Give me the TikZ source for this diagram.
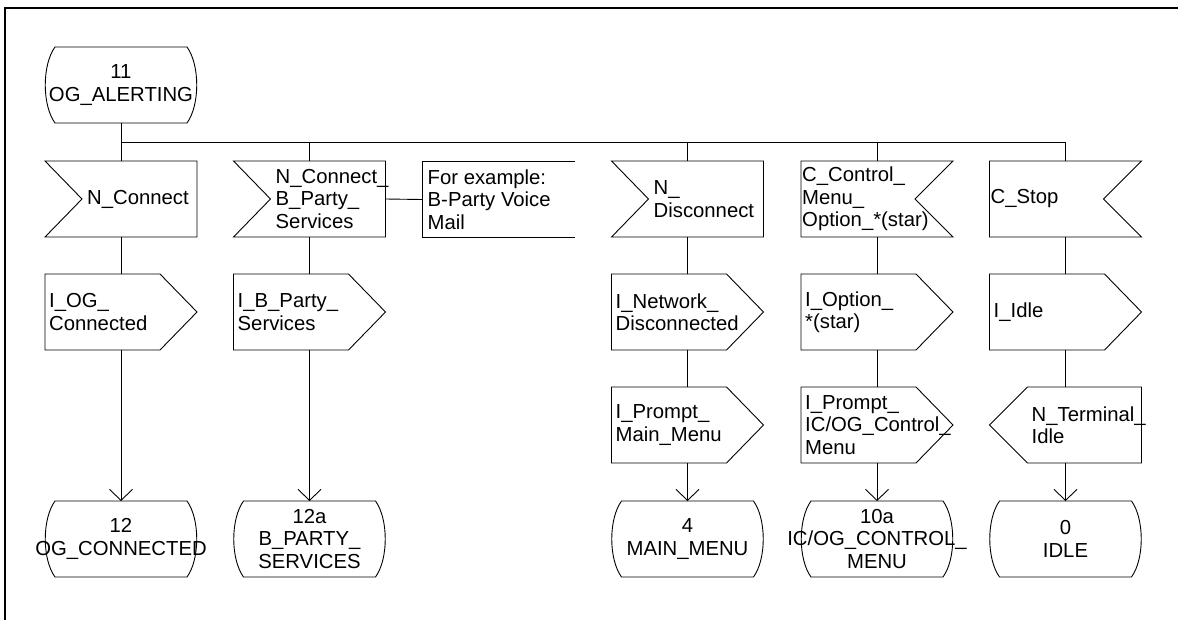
\documentclass[tikz,border=0pt]{standalone}
\usepackage{fontspec}
\setmainfont{Liberation Sans}
\usetikzlibrary{arrows.meta,calc}
\begin{document}
\begin{tikzpicture}[x=1pt,y=-1pt,
  every node/.style={font=\fontsize{20.3}{22.5}\selectfont},
  box/.style={draw=none, minimum width=152pt, minimum height=76pt, inner sep=0pt, outer sep=0pt},
  statebox/.style={box, align=center},
  lbl/.style={anchor=west, align=left, inner sep=0pt},
  line/.style={line width=0.9pt},
  flow/.style={line, -{Straight Barb[length=11pt,width=23pt]}},
  frame/.style={line width=2.6pt},
]
\useasboundingbox (0,0) rectangle (1178,619);

% page frame (top and left edges)
\draw[frame] (5,625) -- (5,8) -- (1185,8);

% states
\node[statebox] (s11)   at (121,85)    {11\\OG\_ALERTING};
\node[statebox] (st12)  at (121,539)   {12\\OG\_CONNECTED};
\node[statebox] (st12a) at (309.5,539) {12a\\B\_PARTY\_\\SERVICES};
\node[statebox] (st4)   at (687.5,539) {4\\MAIN\_MENU};
\node[statebox] (st10a) at (877,539)   {10a\\IC/OG\_CONTROL\_\\MENU};
\node[statebox] (st0)   at (1065.5,539){0\\IDLE};

% inputs and comment
\node[box] (in1) at (121,199)    {};
\node[box] (in2) at (309.5,199)  {};
\node[box] (cm)  at (498.5,199.5){};
\node[box] (in4) at (687.5,199)  {};
\node[box] (in5) at (877,199)    {};
\node[box] (in6) at (1065.5,199) {};

% outputs
\node[box] (o1)  at (121,312)    {};
\node[box] (o2)  at (309.5,312)  {};
\node[box] (o4a) at (687.5,312)  {};
\node[box] (o5a) at (877,312)    {};
\node[box] (o6a) at (1065.5,312) {};
\node[box] (o4b) at (687.5,425)  {};
\node[box] (o5b) at (877,425)    {};
\node[box] (o6b) at (1065.5,425) {};

% state outlines
\foreach \n in {s11,st12,st12a,st4,st10a,st0}
  \draw[line] ($(\n.north)+(-66,0)$) -- ($(\n.north)+(66,0)$)
     .. controls ($(\n.north)+(79,18)$) and ($(\n.south)+(79,-18)$) .. ($(\n.south)+(66,0)$)
     -- ($(\n.south)+(-66,0)$)
     .. controls ($(\n.south)+(-79,-18)$) and ($(\n.north)+(-79,18)$) .. ($(\n.north)+(-66,0)$)
     -- cycle;

% input outlines, notch on the left
\foreach \n in {in1,in2,in4}
  \draw[line] (\n.north west) -- (\n.north east) -- (\n.south east) -- (\n.south west)
     -- ($(\n.west)+(37,0)$) -- cycle;
% input outlines, notch on the right
\foreach \n in {in5,in6}
  \draw[line] (\n.north west) -- (\n.north east) -- ($(\n.east)+(-38,0)$)
     -- (\n.south east) -- (\n.south west) -- cycle;
% output outlines, pointing right
\foreach \n in {o1,o2,o4a,o4b,o5a,o5b,o6a}
  \draw[line] (\n.north west) -- ($(\n.north east)+(-37,0)$) -- (\n.east)
     -- ($(\n.south east)+(-37,0)$) -- (\n.south west) -- cycle;
% output outline, pointing left
\draw[line] (o6b.west) -- ($(o6b.north west)+(38,0)$) -- (o6b.north east)
   -- (o6b.south east) -- ($(o6b.south west)+(38,0)$) -- cycle;
% comment bracket
\draw[line] (cm.north east) -- (cm.north west) -- (cm.south west) -- (cm.south east);

% texts
\node[lbl] (t1)  at ($(in1.west)+(42,0)$) {N\_Connect};
\node[lbl] (t2)  at ($(in2.west)+(42,0)$) {N\_Connect\_\\B\_Party\_\\Services};
\node[lbl] (tcm) at ($(cm.west)+(5,0)$)   {For example:\\B-Party Voice\\Mail};
\node[lbl] (t4)  at ($(in4.west)+(42,0)$) {N\_\\Disconnect};
\node[lbl] (t5)  at ($(in5.west)+(1,0)$)  {C\_Control\_\\Menu\_\\Option\_*(star)};
\node[lbl] (t6)  at ($(in6.west)+(1,0)$)  {C\_Stop};
\node[lbl] (u1)  at ($(o1.west)+(4,0)$)   {I\_OG\_\\Connected};
\node[lbl] (u2)  at ($(o2.west)+(4,0)$)   {I\_B\_Party\_\\Services};
\node[lbl] (u4a) at ($(o4a.west)+(4,0)$)  {I\_Network\_\\Disconnected};
\node[lbl] (u5a) at ($(o5a.west)+(4,0)$)  {I\_Option\_\\*(star)};
\node[lbl] (u6a) at ($(o6a.west)+(4,0)$)  {I\_Idle};
\node[lbl] (u4b) at ($(o4b.west)+(4,0)$)  {I\_Prompt\_\\Main\_Menu};
\node[lbl] (u5b) at ($(o5b.west)+(4,0)$)  {I\_Prompt\_\\IC/OG\_Control\_\\Menu};
\node[lbl] (u6b) at ($(o6b.west)+(42,0)$) {N\_Terminal\_\\Idle};

% branching from the start state
\coordinate (bus) at (0,142);
\draw[line] (s11.south) -- (in1.north);
\draw[line] (in1.north |- bus) -- (in6.north |- bus);
\foreach \n in {in2,in4,in5,in6}
  \draw[line] (\n.north |- bus) -- (\n.north);
\draw[line] (in2.east) -- (cm.west);

% transitions
\draw[line] (in1.south) -- (o1.north);
\draw[flow] (o1.south) -- (st12.north);
\draw[line] (in2.south) -- (o2.north);
\draw[flow] (o2.south) -- (st12a.north);
\draw[line] (in4.south) -- (o4a.north);
\draw[line] (o4a.south) -- (o4b.north);
\draw[flow] (o4b.south) -- (st4.north);
\draw[line] (in5.south) -- (o5a.north);
\draw[line] (o5a.south) -- (o5b.north);
\draw[flow] (o5b.south) -- (st10a.north);
\draw[line] (in6.south) -- (o6a.north);
\draw[line] (o6a.south) -- (o6b.north);
\draw[flow] (o6b.south) -- (st0.north);
\end{tikzpicture}
\end{document}
